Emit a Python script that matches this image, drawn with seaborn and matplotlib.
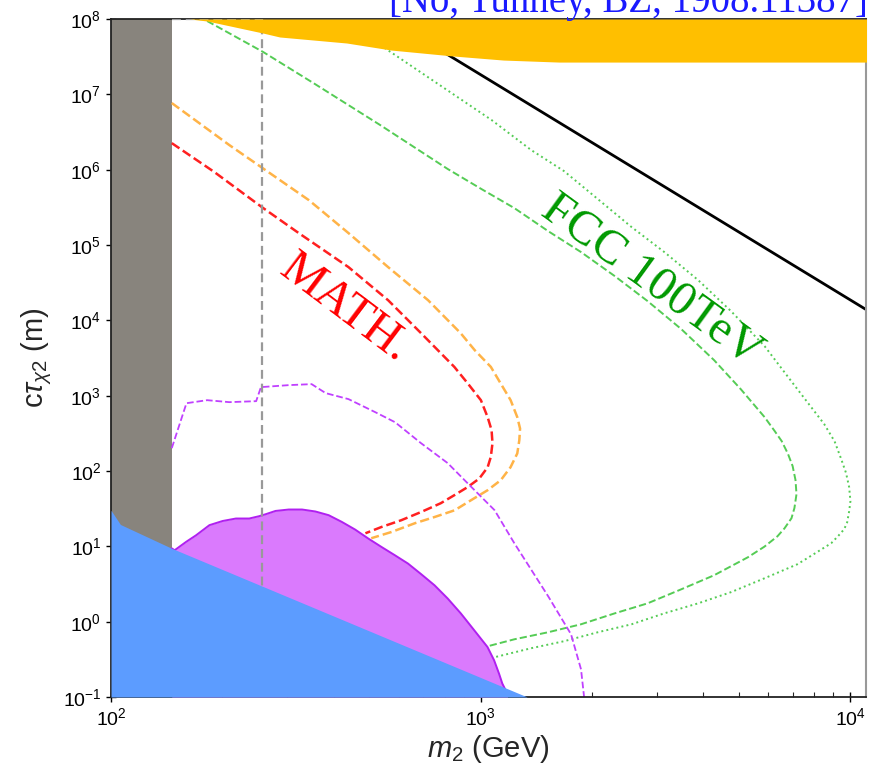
import numpy as np
import pandas as pd
import matplotlib
matplotlib.use("Agg")
import matplotlib.pyplot as plt
from matplotlib.ticker import LogLocator, NullFormatter
import seaborn as sns

sns.set_theme(style="ticks")
plt.rcParams["font.family"] = ["Liberation Sans", "DejaVu Sans"]
plt.rcParams["mathtext.fontset"] = "custom"
plt.rcParams["mathtext.rm"] = "Liberation Sans"
plt.rcParams["mathtext.it"] = "Liberation Sans:italic"
plt.rcParams["mathtext.bf"] = "Liberation Sans:bold"

# ---- data (m2 in GeV, c*tau in m) ----
lep_mmax = 146.0  # LEP exclusion: m2 below this

prompt_m = [100, 106, 146, 1337]
prompt_ct = [30, 19.5, 9.4, 0.1]

lhc_m = [146, 148.6, 159.8, 169.8, 184.6, 200.5, 217.8, 236.6, 251.5, 262.2,
         278.7, 302.7, 328.8, 357.3, 388.1, 421.2, 457.6, 496.6, 539.5, 586.1,
         636.3, 691.0, 750.6, 814.7, 885.0, 961.2, 1044, 1088, 1122, 1145, 1169,
         1183]
lhc_ct = [9.4, 8.87, 11.5, 14.0, 19.1, 21.7, 23.4, 23.4, 25.1, 26.7,
          29.5, 30.8, 30.8, 29.0, 25.9, 21.1, 16.7, 12.7, 9.8, 7.62,
          5.90, 4.26, 3.04, 2.03, 1.28, 0.769, 0.461, 0.307, 0.204, 0.151, 0.123,
          0.1]

lhc_hl_m = [146, 160, 182, 209, 247, 254.5, 303, 349, 381, 439, 519, 587, 690,
            815, 922, 1091, 1234, 1524, 1757, 1870, 1906]
lhc_hl_ct = [201, 794, 871, 820, 845, 1298, 1380, 1422, 1080, 900, 603, 444, 234,
             127, 68.9, 30.2, 11, 2.17, 0.68, 0.233, 0.1]

bbn_m = [163, 182, 258, 286, 434, 573, 841, 1153, 1630, 11100]
bbn_ct = [1e8, 9.4e7, 6.5e7, 5.77e7, 4.8e7, 3.87e7, 3.23e7, 2.85e7, 2.68e7, 2.68e7]

dm_m = [700, 11100]
dm_ct = [5.3e7, 1.37e4]

math_m = [146, 190.4, 256, 322, 439, 562, 690, 766, 849, 922, 1002, 1045,
          1071, 1077, 1066, 1045, 992, 922, 849, 780, 691, 610, 540, 488]
math_ct = [2.25e6, 9.29e5, 3.18e5, 1.44e5, 5.09e4, 1.85e4, 6760, 4020,
           2410, 1466, 871, 518, 348, 234, 154, 112, 79.4, 61, 47.7, 37.3, 28.6,
           22.2, 18.1, 14.9]

math2_m = [146, 209, 343, 439, 562, 721, 883, 964, 1066, 1132, 1206, 1257, 1279,
           1273, 1257, 1205, 1134, 1045, 942, 851, 751, 665, 574, 506]
math2_ct = [7.66e6, 2.12e6, 3.94e5, 1.44e5, 5.09e4, 1.85e4, 6760, 4020, 2410, 1466,
            871, 518, 366, 256, 171, 112, 75.5, 55.6, 40.9, 30.1, 24.5, 20.3, 15.5,
            12.8]

fcc_m = [182, 258, 353, 535, 815, 1006, 1234, 1523, 1870, 2308, 2831, 3493,
         4285, 5060, 5870, 6244, 6530, 6785, 6990, 7115, 7160, 7068, 6940, 6643,
         6360, 5861, 5290, 4285, 3493, 2831, 2308, 1870, 1523, 1234, 1045]
fcc_ct = [9.4e7, 3.65e7, 1.41e7, 3.91e6, 1.02e6, 5.52e5, 3.09e5, 1.53e5, 8.05e4,
          3.86e4, 1.8e4, 7640, 2958, 1219, 518, 341, 249, 170, 116, 76, 49.2, 32.2,
          23.6, 17.3, 13.6, 9.89, 7.16, 4.13, 2.69, 1.75, 1.29, 0.923, 0.723, 0.583,
          0.471]

fcc2_m = [535, 1071, 1371, 1682, 2076, 2562, 3143, 3879, 4757, 5870, 7200, 8510,
          9080, 9460, 9750, 9940, 10020, 9940, 9820, 9640, 9270, 8890, 8010, 7200,
          5870, 4757, 3879, 3143, 2562, 2076, 1682, 1371, 1091]
fcc2_ct = [4.52e7, 4.56e6, 1.82e6, 9.57e5, 4.07e5, 1.73e5, 8.05e4, 3.42e4, 1.33e4,
           4540, 1219, 419, 247, 144, 94, 61, 39.8, 29.2, 20.9, 16.9, 13.6, 11,
           7.98, 5.78, 3.77, 2.46, 1.75, 1.29, 0.923, 0.723, 0.55, 0.444, 0.337]

ref_m = [146, 256.6, 256.6]
ref_ct = [1e8, 1e8, 2.78]

# ---- figure ----
fig = plt.figure(figsize=(8.75, 7.66), dpi=100)
ax = fig.add_axes([0.1269, 0.0901, 0.8628, 0.8851])
ax.set_xscale("log")
ax.set_yscale("log")
ax.set_xlim(100, 11040)
ax.set_ylim(0.1, 1e8)

ax.axvspan(100, lep_mmax, color="#88847d", lw=0, zorder=1)


def curve(m, ct, **kw):
    df = pd.DataFrame({"m": m, "ct": ct})
    sns.lineplot(data=df, x="m", y="ct", sort=False, estimator=None, ax=ax, **kw)


curve(dm_m, dm_ct, color="black", lw=2.0, zorder=2)
curve(math_m, math_ct, color="#ff2020", lw=1.8, linestyle="--", zorder=2)
curve(math2_m, math2_ct, color="#ffb347", lw=1.8, linestyle="--", zorder=2)
curve(fcc_m, fcc_ct, color="#55cc55", lw=1.4, linestyle="--", zorder=2)
curve(fcc2_m, fcc2_ct, color="#55cc55", lw=1.4, linestyle=":", zorder=2)
curve(lhc_hl_m, lhc_hl_ct, color="#c040ff", lw=1.3, linestyle="--", zorder=2)

ax.fill_between(lhc_m, lhc_ct, 0.1, color="#da7afd", lw=0, zorder=3)
curve(lhc_m, lhc_ct, color="#b020f0", lw=1.4, zorder=3.1)
curve(ref_m, ref_ct, color="#999999", lw=1.6, linestyle=(0, (4, 2.2)), zorder=4)
ax.fill_between(prompt_m, prompt_ct, 0.1, color="#5c9cff", lw=0, zorder=5)
ax.fill_between(bbn_m, bbn_ct, 1e8, color="#ffbf00", lw=0, zorder=6)

ax.text(428, 1.45e4, "MATH.", color="#ff0000", fontsize=35,
        family=["Liberation Serif", "DejaVu Serif"], rotation=-37,
        rotation_mode="anchor", ha="center", va="center", zorder=7)
ax.text(2900, 3.4e4, "FCC 100TeV", color="#009900", fontsize=35,
        family=["Liberation Serif", "DejaVu Serif"], rotation=-36,
        rotation_mode="anchor", ha="center", va="center", zorder=7)

fig.text(0.992, 0.984, "[No, Tunney, BZ, 1908.11387]", color="#1a1aff",
         fontsize=28, family=["Liberation Serif", "DejaVu Serif"],
         ha="right", va="baseline")

ax.set_xlabel(r"$m_2$ (GeV)", fontsize=21, labelpad=3)
ax.set_ylabel(r"c$\tau_{\chi 2}$ (m)", fontsize=21, labelpad=6)

ax.yaxis.set_major_locator(LogLocator(base=10, numticks=20))
ax.yaxis.set_minor_locator(LogLocator(base=10, subs=np.arange(2, 10), numticks=200))
ax.yaxis.set_minor_formatter(NullFormatter())
ax.xaxis.set_minor_locator(LogLocator(base=10, subs=np.arange(2, 10), numticks=50))
ax.xaxis.set_minor_formatter(NullFormatter())
ax.tick_params(which="major", direction="inout", length=7, width=1.0,
               labelsize=14, colors="black")
ax.tick_params(which="minor", direction="in", length=3.5, width=0.8)

for side in ["left", "bottom", "top"]:
    ax.spines[side].set_color("#222222")
    ax.spines[side].set_linewidth(1.3)
ax.spines["right"].set_color("#999999")
ax.spines["right"].set_linewidth(1.5)

fig.savefig("out.png", dpi=100)
